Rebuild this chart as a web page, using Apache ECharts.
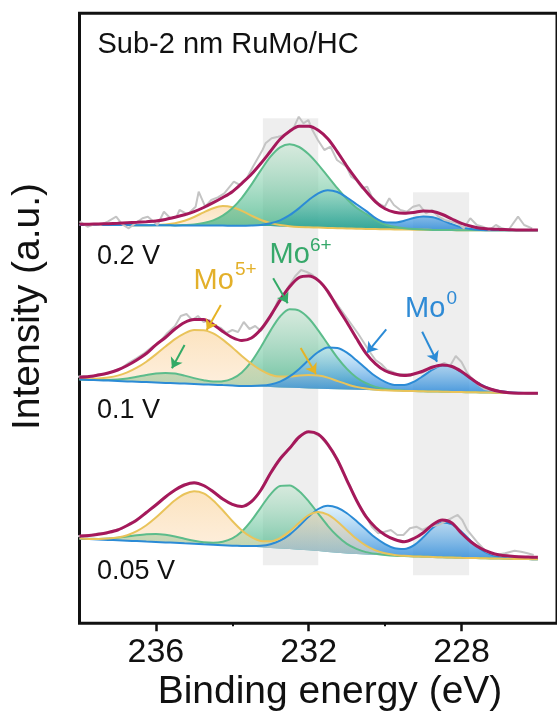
<!DOCTYPE html>
<html><head><meta charset="utf-8">
<script src="https://cdn.jsdelivr.net/npm/echarts@6/dist/echarts.min.js"></script>
<style>html,body{margin:0;padding:0;background:#fff}#c{width:557px;height:724px}</style>
</head><body><div id="c"></div>
<script>
// ---- data (binding energy in eV, intensity in a.u.) ----
const energy = [238,237.75,237.5,237.25,237,236.75,236.5,236.25,236,235.75,235.5,235.25,235,234.75,234.5,234.25,234,233.75,233.5,233.25,233,232.75,232.5,232.25,232,231.75,231.5,231.25,231,230.75,230.5,230.25,230,229.75,229.5,229.25,229,228.75,228.5,228.25,228,227.75,227.5,227.25,227,226.75,226.5,226.25,226];
const spectrumLabels = ['0.2 V','0.1 V','0.05 V'];
const offsets = [393, 230, 64];
const tickValues = [236, 232, 228];
const minorTickValues = [234, 230];

// 0.2 V
const base1 = [5.3,5.3,5.3,5.3,5.2,5.2,5.1,5.1,5.0,5.0,4.9,4.9,4.8,4.8,4.7,4.7,4.6,4.5,4.4,4.3,4.2,3.9,3.6,3.3,3.0,2.7,2.4,2.1,1.8,1.6,1.4,1.2,1.0,0.9,0.8,0.6,0.5,0.4,0.3,0.2,0.1,0,0,0,0,0,0,0,0];
const mo5_1 = [0,0,0,0,0,0,0,0,0.3,0.9,2.2,4.6,8.5,13.2,17.4,19.5,18.5,15,10.3,6,3,1.3,0.4,0,0,0,0,0,0,0,0,0,0,0,0,0,0,0,0,0,0,0,0,0,0,0,0,0,0];
const mo6_1 = [0,0,0,0,0,0,0,0,0,0,0,0.4,1.1,2.5,5.2,9.9,17.4,28,41.3,55.9,69.4,79,82.5,80,73,63,51.5,40,29.5,21,15,9,4.8,2.6,1.3,0.6,0.2,0,0,0,0,0,0,0,0,0,0,0,0];
const mo0_1 = [0,0,0,0,0,0,0,0,0,0,0,0,0,0,0,0,0,0,0.4,1.1,2.8,6.1,11.5,18.9,27.3,34.3,37.7,36.2,31,24.5,18,11,7.0,6.8,8.8,11.8,13.4,12.6,9.7,6,3,1.3,0.4,0,0,0,0,0,0];
const fit1 = [6.0,6.1,6.3,6.6,7.0,7.5,8.0,8.6,9.3,10.8,13.0,15.5,18.6,22.8,27.6,32.8,38.6,47,56,67,79,91,99,104,104,100,91.5,78.5,64,51,39,28.5,21.5,18,17,17.8,19.3,18.8,15.8,11.3,7.0,4.0,2.0,1.3,0.9,0.6,0.3,0.3,0.3];
const rawE1 = [238.0,237.79,237.62,237.45,237.25,237.04,236.88,236.71,236.5,236.35,236.21,235.96,235.79,235.62,235.46,235.38,235.17,234.96,234.88,234.71,234.55,234.38,234.21,233.96,233.8,233.62,233.46,233.21,233.13,232.97,232.8,232.63,232.48,232.38,232.26,232.22,232.14,232.09,232.01,231.9,231.76,231.59,231.43,231.26,231.01,230.89,230.76,230.6,230.47,230.35,230.18,230.01,229.89,229.77,229.6,229.43,229.27,229.1,228.93,228.77,228.6,228.44,228.27,228.1,227.94,227.77,227.6,227.44,227.27,227.1,226.94,226.77,226.52,226.36,226.15];
const rawI1 = [9,3.6,6,5.3,9,13.6,6,2,8,12,13.6,5.3,18.6,12,13.6,20.3,16,23.6,38.6,23.6,30.3,33,37,48.6,45.3,52,63.6,80.3,87,92,93.6,95.3,100,103.6,113.6,115.3,107,107,110.3,100,90.3,80.3,83.6,70.3,63.6,53.6,50.3,42,43.6,33.6,27,23.6,32,25.3,20.3,18.6,23.6,25.3,17,20.3,13.6,10.3,8.6,7,2,12,5.3,3.6,0.3,5.3,2,0.3,13.6,5.3,2];

// 0.1 V
const base2 = [13.8,13.4,13.1,12.7,12.3,11.9,11.6,11.2,10.8,10.4,10.1,9.7,9.3,8.9,8.6,8.2,7.8,7.4,7.1,6.7,6.3,5.9,5.6,5.2,4.8,4.5,4.3,4.0,3.8,3.5,3.3,3.0,2.8,2.6,2.4,2.2,2.0,1.8,1.6,1.4,1.2,1.0,0.9,0.7,0.5,0.4,0.3,0.1,0];
const mo5_2 = [0.4,0.8,1.6,3.1,5.4,9,14,20.4,28.1,36.4,44.1,50.3,53.9,54.2,51.3,45.5,38,29.8,22.4,16.4,12.3,10.8,11.1,12.6,13.5,13.2,11.4,8.3,5.3,2.9,1.4,0.5,0.2,0,0,0,0,0,0,0,0,0,0,0,0,0,0,0,0];
const mo6_2 = [0,0.1,0.3,0.7,1.6,3,5,7.2,9.1,10,9.6,8,5.9,4.2,3.1,3.8,6.9,13.5,24.6,39.7,56.4,70.9,78.5,77.5,70.3,58.5,44.9,31.7,20.6,12.3,6.8,3.4,1.6,0.7,0.3,0,0,0,0,0,0,0,0,0,0,0,0,0,0];
const mo0_2 = [0,0,0,0,0,0,0,0,0,0,0,0,0,0,0,0,0,0,0.3,1.0,2.6,5.8,11.3,19.2,28.4,36.8,41.5,41.2,36.8,29.5,21.4,14.0,8.6,5.7,5.9,9.3,15.4,22.1,26.2,25.3,19.7,13.5,8,4,1.8,0.7,0.2,0,0];
const fit2 = [16.0,16.8,18.3,20.3,23.3,27.8,33.3,39.8,48.5,55.8,64.3,70.8,73.8,73.8,68.8,61.8,55.8,52.8,55.3,64,77.5,93,106.5,115.8,117.3,113,102,86,71,55,40,29.5,22.5,19.3,17.8,19.3,22.3,26.3,28.3,26.8,21.8,14.8,8.3,4.3,1.8,0.6,0.1,0,0];
const rawE2 = [238.1,237.9,237.7,237.5,237.3,237.1,236.9,236.7,236.5,236.3,236.1,235.9,235.7,235.5,235.35,235.2,235.05,234.9,234.75,234.6,234.45,234.3,234.15,234.0,233.85,233.7,233.55,233.4,233.25,233.1,232.95,232.8,232.65,232.5,232.35,232.2,232.05,231.9,231.75,231.6,231.45,231.3,231.15,231.0,230.85,230.7,230.55,230.4,230.25,230.1,229.95,229.8,229.65,229.5,229.35,229.2,229.05,228.9,228.75,228.6,228.45,228.3,228.15,228.0,227.85,227.7,227.55,227.4,227.25,227.1,226.95,226.8,226.6,226.4,226.2,226.05];
const rawI2 = [16.3,17.3,15.8,19.3,19.3,22.3,25.3,30.8,35.3,40.3,46.3,51.3,60.3,67.3,77.3,79.3,73.3,77.3,71.3,73.3,67.3,65.3,60.3,63.3,61.3,71.3,64.3,67.3,62.3,70.3,79.3,93.3,99.3,108.3,117.3,123.3,121.3,118.3,112.3,107.3,97.3,91.3,83.3,75.3,67.3,59.3,50.3,41.3,33.3,29.3,23.3,21.3,18.3,19.3,17.3,20.3,20.3,23.3,25.3,27.3,30.3,27.3,37.3,31.3,20.3,13.3,8.3,4.3,3.3,1.8,1.3,0.3,-0.2,0.3,-0.7,0.3];

// 0.05 V
const base3 = [20.6,20.2,19.8,19.4,19.0,18.6,18.2,17.7,17.3,16.9,16.5,16.0,15.6,15.1,14.6,14.1,13.6,13.1,12.6,12.0,11.4,10.8,10.2,9.6,9.0,8.2,7.4,6.6,5.8,5.3,4.8,4.4,4.0,3.6,3.2,2.9,2.6,2.3,2.0,1.8,1.5,1.3,1.1,0.9,0.7,0.5,0.3,0.2,0];
const mo5_3 = [0.1,0.2,0.6,1.3,2.8,5.5,9.9,16.3,24.4,33.7,42.5,49.3,52.4,50.8,44.3,34.9,24.7,15.8,9.6,6.4,6.6,10.4,17.7,26.9,35.1,39,37.2,31.3,23.2,15.2,8.8,4.5,2,0.8,0.3,0,0,0,0,0,0,0,0,0,0,0,0,0,0];
const mo6_3 = [0.1,0.3,0.6,1.3,2.5,4.1,5.8,7.3,8,7.6,6.4,4.6,3,2.0,2.0,3.5,7.3,14.7,26,40,53.6,62.4,63.5,58.5,49,37.5,26.1,16.6,9.6,5.1,2.4,1.1,0.4,0,0,0,0,0,0,0,0,0,0,0,0,0,0,0,0];
const mo0_3 = [0,0,0,0,0,0,0,0,0,0,0,0,0,0,0,0,0,0.2,0.6,1.5,3.7,7.8,14.5,23.6,33.7,42.1,46.2,45,40.3,33,24.9,17.1,11.2,7.4,7.1,11,19.4,29.2,34.8,33.1,26,16.8,9,4,1.4,0.5,0.2,0,0];
const fit3 = [23.3,23.8,25.0,26.8,29.3,33.8,39.3,46.8,54.3,62.3,69.3,74.3,76.6,73.8,67.6,60.3,55.0,52.8,57.6,69.3,86.0,100.3,111.0,122.3,127.5,125,115,99.5,79,59,42.6,31.8,24.3,19.8,17.6,20.8,26.6,34.8,39.3,36.3,26.0,17.3,11.0,6.8,4.3,3.3,2.6,2.3,2.0];
const rawE3 = [238.1,237.9,237.7,237.5,237.3,237.1,236.9,236.7,236.5,236.3,236.1,235.9,235.7,235.5,235.3,235.1,234.9,234.7,234.5,234.3,234.1,233.9,233.7,233.5,233.3,233.1,232.9,232.7,232.5,232.3,232.1,231.9,231.7,231.5,231.3,231.1,230.9,230.7,230.5,230.35,230.18,230.01,229.85,229.68,229.52,229.35,229.18,229.02,228.85,228.6,228.35,228.19,228.1,227.98,227.85,227.6,227.35,227.1,226.86,226.61,226.44,226.27,226.11];
const rawI3 = [22.8,23.9,24.0,26.0,25.8,28.8,30.5,35.5,39.8,44.8,51.5,57.8,64.3,69.0,74.5,75.8,75.8,72.5,68.3,61.0,57.0,53.3,53.6,58.3,66.0,80.3,92.5,103.8,111.3,120.0,127,127,123,114,102,87,72,55.5,43.6,32.6,26,27.6,29.3,24.3,24.3,31,32.6,29.3,32.6,34.3,39.3,42.6,44.3,39.3,29.3,17.6,7.6,4.3,6,8.6,7.6,6,4.3];

// ---- styling ----
const FONT = '"Liberation Sans", Arial, Helvetica, sans-serif';
const G = (a, b) => new echarts.graphic.LinearGradient(0, 0, 0, 1, [{offset: 0, color: a}, {offset: 1, color: b}]);
const compStyle = {
  mo5: {line: '#e9c35a', top: 'rgba(250,205,140,0.55)', bot: 'rgba(252,226,196,0.5)'},
  mo6: {line: '#5cbc8b', top: 'rgba(185,228,200,0.45)', bot: 'rgba(40,170,120,0.7)'},
  mo0: {line: '#2b8bd6', top: 'rgba(200,232,250,0.55)', bot: 'rgba(30,130,215,0.8)'}
};

const series = [];
// grey guide bands
series.push({
  type: 'line', data: [], z: 0, silent: true,
  markArea: {
    silent: true, itemStyle: {color: 'rgba(0,0,0,0.065)'},
    data: [
      [{xAxis: 233.2, yAxis: 505}, {xAxis: 231.75, yAxis: 58}],
      [{xAxis: 229.27, yAxis: 431}, {xAxis: 227.8, yAxis: 48}]
    ]
  }
});

function addSpectrum(k, base, comps, fillOrder, lineOrder, fit, rawE, rawI) {
  const off = offsets[k];
  fillOrder.forEach(name => {
    const cs = compStyle[name], vals = comps[name];
    series.push({
      type: 'custom', coordinateSystem: 'cartesian2d', silent: true, z: 2,
      data: [[energy[0], off + base[0]]],
      encode: {x: 0, y: 1},
      renderItem: (params, api) => {
        const upper = energy.map((e, i) => api.coord([e, off + base[i] + vals[i]]));
        const lower = energy.map((e, i) => api.coord([e, off + base[i]])).reverse();
        return {
          type: 'polygon', silent: true,
          shape: {points: upper.concat(lower), smooth: 0},
          style: {fill: G(cs.top, cs.bot), stroke: null}
        };
      }
    });
  });
  lineOrder.forEach(name => {
    const cs = compStyle[name], vals = comps[name];
    series.push({
      type: 'line', symbol: 'none', silent: true, z: 2, smooth: 0.3,
      lineStyle: {color: cs.line, width: 2},
      data: energy.map((e, i) => [e, off + base[i] + vals[i]])
    });
  });
  series.push({
    type: 'line', symbol: 'none', silent: true, z: 3,
    lineStyle: {color: '#c4c4c4', width: 2},
    data: rawE.map((e, i) => [e, off + rawI[i]])
  });
  series.push({
    type: 'line', symbol: 'none', silent: true, z: 4, smooth: 0.3,
    lineStyle: {color: '#a5195b', width: 3},
    data: energy.map((e, i) => [e, off + fit[i]])
  });
}
addSpectrum(0, base1, {mo5: mo5_1, mo6: mo6_1, mo0: mo0_1}, ['mo5', 'mo0', 'mo6'], ['mo5', 'mo6', 'mo0'], fit1, rawE1, rawI1);
addSpectrum(1, base2, {mo5: mo5_2, mo6: mo6_2, mo0: mo0_2}, ['mo6', 'mo5', 'mo0'], ['mo6', 'mo5', 'mo0'], fit2, rawE2, rawI2);
addSpectrum(2, base3, {mo5: mo5_3, mo6: mo6_3, mo0: mo0_3}, ['mo6', 'mo0', 'mo5'], ['mo6', 'mo0', 'mo5'], fit3, rawE3, rawI3);

// annotation arrows (data coordinates)
const arrows = [
  {from: [234.30, 318.3], to: [234.67, 293.3], c: '#e6b325'},
  {from: [235.25, 278.3], to: [235.58, 255.0], c: '#33aa66'},
  {from: [232.93, 345.0], to: [232.55, 320.0], c: '#33aa66'},
  {from: [232.21, 275.3], to: [231.81, 249.3], c: '#e6b325'},
  {from: [229.97, 294.0], to: [230.47, 270.6], c: '#2b8bd6'},
  {from: [229.03, 291.6], to: [228.64, 261.6], c: '#2b8bd6'}
];
series.push({
  type: 'line', data: [], z: 6, silent: true,
  markLine: {
    silent: true, symbol: ['none', 'arrow'], symbolSize: 10, label: {show: false},
    lineStyle: {width: 2, type: 'solid'},
    data: arrows.map(a => [
      {coord: a.from, lineStyle: {color: a.c, width: 2, type: 'solid'}, itemStyle: {color: a.c}},
      {coord: a.to}
    ])
  }
});

const txt = (text, x, y, size, color, extra) => Object.assign({
  type: 'text', x: x, y: y, z: 10, silent: true,
  style: Object.assign({text: text, fill: color || '#111', fontSize: size, fontFamily: FONT,
    textAlign: 'left', textVerticalAlign: 'middle', align: 'left', verticalAlign: 'middle'}, (extra && extra.style) || {})
}, extra && extra.el || {});

const graphics = [
  txt('Sub-2 nm RuMo/HC', 97.5, 45, 29),
  txt(spectrumLabels[0], 97, 257, 27),
  txt(spectrumLabels[1], 97, 411, 27),
  txt(spectrumLabels[2], 97, 571.5, 27),
  txt('Mo', 193.5, 281, 29, '#e3b02a'),
  txt('5+', 235, 269.5, 19, '#e3b02a'),
  txt('Mo', 269.5, 255, 29, '#36a86a'),
  txt('6+', 310, 246, 19, '#36a86a'),
  txt('Mo', 405, 309, 29, '#2e8ad5'),
  txt('0', 446.5, 299, 19, '#2e8ad5'),
  txt('Binding energy (eV)', 330, 692.5, 39, '#111', {style: {textAlign: 'center', align: 'center'}}),
  txt('Intensity (a.u.)', 28.3, 306.5, 39, '#111', {style: {textAlign: 'center', align: 'center'}, el: {rotation: Math.PI / 2}})
];

const chart = echarts.init(document.getElementById('c'), null, {renderer: 'canvas'});
chart.setOption({
  animation: false,
  backgroundColor: '#ffffff',
  grid: {left: 79.5, top: 13.3, right: -23.75, bottom: 100.7, show: true, borderColor: '#111', borderWidth: 3, backgroundColor: 'transparent'},
  xAxis: [{
    type: 'value', min: 225.5, max: 238, inverse: true, position: 'bottom',
    axisLine: {show: false}, splitLine: {show: false},
    axisTick: {show: true, inside: false, length: 8, customValues: tickValues, lineStyle: {color: '#111', width: 2.5}},
    axisLabel: {show: true, margin: 12, customValues: tickValues, fontSize: 34, color: '#111', fontFamily: FONT}
  }, {
    type: 'value', min: 225.5, max: 238, inverse: true, position: 'bottom',
    axisLine: {show: false}, splitLine: {show: false}, axisLabel: {show: false},
    axisTick: {show: true, inside: false, length: 3, customValues: minorTickValues, lineStyle: {color: '#111', width: 2}}
  }],
  yAxis: {type: 'value', min: 0, max: 610, show: false},
  series: series,
  graphic: graphics
});
</script></body></html>
